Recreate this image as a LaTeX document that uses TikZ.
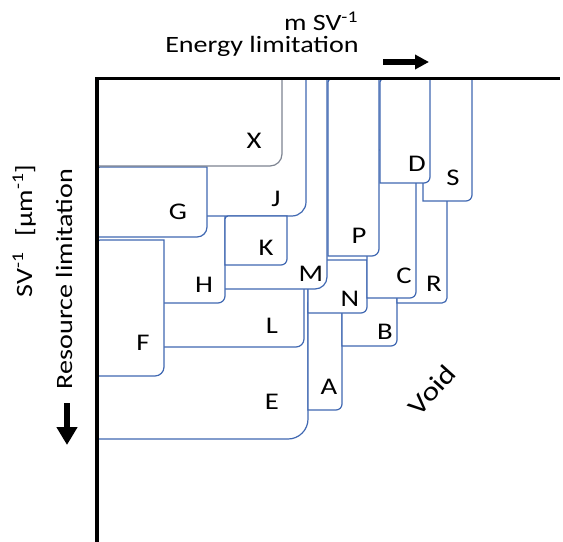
\documentclass[tikz,border=0pt]{standalone}
\usepackage{fontspec}
\setmainfont{Carlito}[FakeStretch=1.2]
\usetikzlibrary{arrows.meta}
\definecolor{boxblue}{RGB}{64,104,178}
\definecolor{boxgray}{RGB}{125,132,145}
% #2=x1 #3=y1 #4=x2 #5=y2 #6=radius (pixel coords, y down)
\newcommand\myrbox[6][]{%
  \filldraw[boxst,#1] (#2,#5) -- (#2,#3+3) .. controls (#2,#3+1.35) and (#2+1.35,#3) .. (#2+3,#3)
    -- (#4,#3) -- (#4,#5-#6) .. controls (#4,#5-0.448*#6) and (#4-0.448*#6,#5) .. (#4-#6,#5) -- cycle;}
\begin{document}
\begin{tikzpicture}[x=1bp,y=-1bp,
  boxst/.style={draw=boxblue,fill=white,line width=1.2bp},
  lab/.style={font=\fontsize{24}{28}\selectfont,inner sep=0pt},
  axt/.style={font=\fontsize{23.5}{27}\selectfont,inner sep=0pt},
  axis/.style={line width=3bp,black},
  bigarrow/.style={black,-{Triangle[length=14bp,width=14bp]}}]
\useasboundingbox (0,0) rectangle (563,542);
% boxes, back to front
\myrbox{97}{79}{308}{439}{20}   % E
\myrbox{97}{79}{304}{347}{8}    % L
\myrbox{308}{300}{342}{410}{6}  % A
\myrbox{342}{290}{397}{346}{6}  % B
\myrbox{308}{260}{367}{313}{6}  % N
\myrbox{397}{150}{447}{303}{5}  % R
\myrbox{367}{150}{416}{298}{6}  % C
\myrbox{423}{78}{472}{201}{6}   % S
\myrbox{380}{79}{430}{183}{6}   % D
\myrbox{328}{79}{379}{256}{7}   % P
\myrbox{97}{79}{327}{289}{12}   % M
\myrbox{97}{79}{225}{303}{7}    % H
\myrbox{97}{79}{306}{216}{14}   % J
\myrbox{225}{216}{287}{265}{6}  % K
\myrbox{97}{167}{207}{237}{10}  % G
\myrbox{97}{240}{164}{376}{9}   % F
\myrbox[draw=boxgray]{97}{79}{282}{166}{12} % X
% axes
\coordinate (xa0) at (95,79);
\coordinate (xa1) at (560,79);
\coordinate (ya0) at (97,77.5);
\coordinate (ya1) at (97,542);
\draw[axis] (xa0) -- (xa1);
\draw[axis,line width=3.3bp] (ya0) -- (ya1);
% arrows
\coordinate (ra0) at (383,62);
\coordinate (ra1) at (429,62);
\draw[bigarrow,line width=5.5bp] (ra0) -- (ra1);
\coordinate (da0) at (67,403);
\coordinate (da1) at (67,445);
\draw[bigarrow,line width=6.5bp,-{Triangle[length=18bp,width=20bp]}] (da0) -- (da1);
% axis texts
\node[axt,anchor=base] (msv) at (321,31) {m SV\textsuperscript{-1}};
\node[axt,anchor=base] (el) at (262,53) {Energy limitation};
\node[axt,anchor=base,rotate=90] (sv) at (32,231) {SV\textsuperscript{-1}\hspace{0.4em} [μm\textsuperscript{-1}]};
\node[axt,anchor=base,rotate=90] (rl) at (72,279) {Resource limitation};
% labels
\node[lab] (lX) at (254,141) {X};
\node[lab] (lG) at (178,212) {G};
\node[lab] (lJ) at (276,199) {J};
\node[lab] (lK) at (266,248) {K};
\node[lab] (lH) at (204,285) {H};
\node[lab] (lM) at (311,274) {M};
\node[lab] (lL) at (272,326) {L};
\node[lab] (lF) at (143,343) {F};
\node[lab] (lE) at (272,402) {E};
\node[lab] (lA) at (329,387) {A};
\node[lab] (lN) at (350,299) {N};
\node[lab] (lB) at (385,332) {B};
\node[lab] (lC) at (404,276) {C};
\node[lab] (lR) at (434,284) {R};
\node[lab] (lP) at (359,236) {P};
\node[lab] (lD) at (417,164) {D};
\node[lab] (lS) at (453,178) {S};
\node[lab,font=\fontsize{26.5}{30}\selectfont,rotate=48] (lVoid) at (432,390) {Void};
\end{tikzpicture}
\end{document}
